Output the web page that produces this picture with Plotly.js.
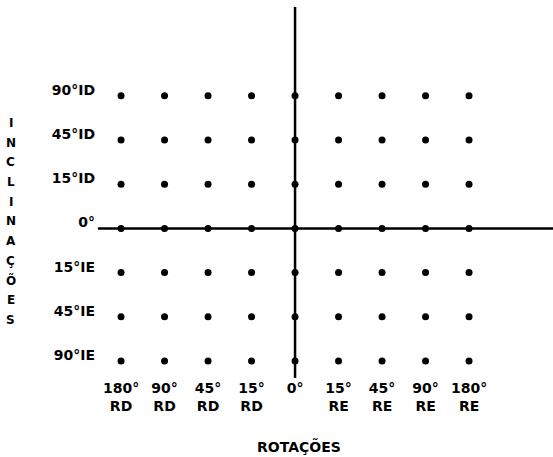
<!DOCTYPE html>
<html>
<head>
<meta charset="utf-8">
<script src="https://cdn.plot.ly/plotly-3.0.1.min.js"></script>
<style>html,body{margin:0;padding:0;background:#fff;}#chart{width:553px;height:457px;}</style>
</head>
<body>
<div id="chart"></div>
<script>
// Rotation categories (x) and inclination categories (y, bottom to top)
const rotacoes = ["180° RD", "90° RD", "45° RD", "15° RD", "0°", "15° RE", "45° RE", "90° RE", "180° RE"];
const rotacoesLabels = ["180°<br>RD", "90°<br>RD", "45°<br>RD", "15°<br>RD", "0°", "15°<br>RE", "45°<br>RE", "90°<br>RE", "180°<br>RE"];
const inclinacoes = ["90°IE", "45°IE", "15°IE", "0°", "15°ID", "45°ID", "90°ID"];
const inclinacoesLabels = ["90°IE", "45°IE", "15°IE", "0°", "15°ID", "45°ID", "90°ID"];
const xTitle = "ROTAÇÕES";
const yTitle = "INCLINAÇÕES";

// every combination is marked with a dot
const px = [], py = [];
inclinacoes.forEach(function (yc) {
  rotacoes.forEach(function (xc) { px.push(xc); py.push(yc); });
});

const font = {family: "DejaVu Sans, sans-serif", size: 14, color: "#000", weight: "bold"};
const x0 = rotacoes.indexOf("0°");
const y0 = inclinacoes.indexOf("0°");

const W = 553, H = 457, L = 98, R = 0, T = 7, B = 79;
const plotH = H - T - B, plotW = W - L - R;

const annotations = [{
  text: xTitle, xref: "x", x: x0, xshift: 4, yref: "paper", y: (T + plotH - 446) / plotH,
  xanchor: "center", yanchor: "middle", showarrow: false, font: Object.assign({}, font, {size: 14})
}];
yTitle.split("").forEach(function (ch, i) {
  annotations.push({
    text: ch, xref: "paper", x: (10.5 - L) / plotW, yref: "paper",
    y: (T + plotH - (123 + i * 19.7)) / plotH,
    xanchor: "center", yanchor: "middle", showarrow: false,
    font: Object.assign({}, font, {size: 12})
  });
});

Plotly.newPlot("chart", [{
  type: "scatter", mode: "markers", x: px, y: py,
  marker: {color: "#000", size: 7}, hoverinfo: "x+y", showlegend: false, cliponaxis: false
}], {
  width: W, height: H,
  margin: {l: L, r: R, t: T, b: B, pad: 0},
  paper_bgcolor: "#fff", plot_bgcolor: "#fff",
  font: font,
  xaxis: {
    type: "category", categoryorder: "array", categoryarray: rotacoes,
    range: [-0.53, 9.93], showgrid: false, zeroline: false, showline: false,
    ticks: "", tickvals: rotacoes, ticktext: rotacoesLabels, tickfont: font, fixedrange: true
  },
  yaxis: {
    type: "category", categoryorder: "array", categoryarray: inclinacoes,
    range: [-0.385, 8.01], showgrid: false, zeroline: false, showline: false,
    ticks: "", tickvals: inclinacoes, ticktext: inclinacoesLabels, tickfont: font,
    ticklabelshift: -6, ticklabelstandoff: 2, fixedrange: true
  },
  shapes: [
    {type: "line", xref: "x", x0: x0, x1: x0, yref: "paper", y0: 0, y1: 1, line: {color: "#000", width: 2.5}, layer: "below"},
    {type: "line", yref: "y", y0: y0, y1: y0, xref: "paper", x0: 0, x1: 1, line: {color: "#000", width: 2.5}, layer: "below"}
  ],
  annotations: annotations
}, {displayModeBar: false, staticPlot: true});
</script>
</body>
</html>
